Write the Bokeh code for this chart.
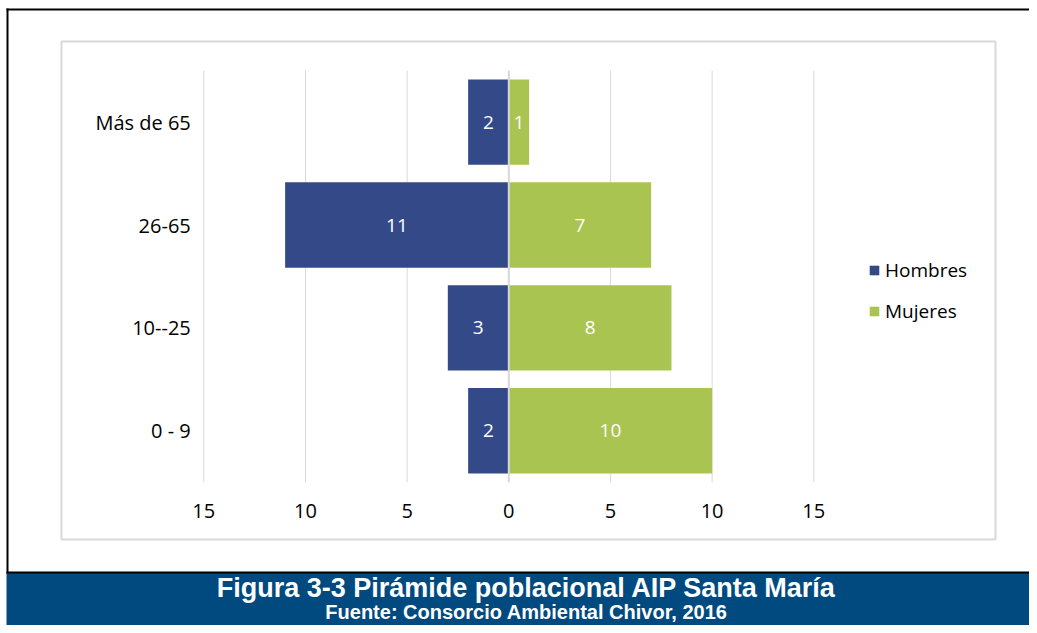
from bokeh.plotting import figure
from bokeh.models import Range1d, LinearAxis, FixedTicker, Legend, LegendItem, Grid
from bokeh.embed import file_html
from bokeh.resources import INLINE
from bokeh.core.properties import value

# ---- data ----
categories = ["0 - 9", "10--25", "26-65", "Más de 65"]
hombres = [2, 3, 11, 2]
mujeres = [10, 8, 7, 1]
x_ticks = [-15, -10, -5, 0, 5, 10, 15]
title = "Figura 3-3 Pirámide poblacional AIP Santa María"
subtitle = "Fuente: Consorcio Ambiental Chivor, 2016"

# ---- layout geometry (pixels from top-left of the picture) ----
W, H = 1029, 625
xl_page, xr_page = 203.3, 813.3          # positions of -15 and +15
ppu = (xr_page - xl_page) / 30.0
x_start = -15 - xl_page / ppu
x_end = 15 + (W - xr_page) / ppu
row = 102.9
y0c = 430.3                               # center of first category
y_end = y0c / row
y_start = -(H - y0c) / row

FONT = "Open Sans"
BLUE = "#344A88"
GREEN = "#A9C451"
GRID = "#D9D9D9"

p = figure(width=W, height=H, x_range=Range1d(x_start, x_end),
           y_range=Range1d(y_start, y_end), output_backend="svg",
           toolbar_location=None, x_axis_location=None, y_axis_location=None,
           min_border=0, outline_line_color=None,
           background_fill_color="white", border_fill_color="white")
p.center = [c for c in p.center if not isinstance(c, Grid)]
p.extra_x_ranges = {"px": Range1d(0, W)}
p.extra_y_ranges = {"py": Range1d(H, 0)}

dec = dict(x_range_name="px", y_range_name="py")

# chart area border
p.quad(left=[61], right=[995], top=[41], bottom=[539],
       fill_color=None, line_color=GRID, line_width=2, **dec)
# outer black frame
p.segment(x0=[7], x1=[7], y0=[8], y1=[573], line_color="black", line_width=2, **dec)
p.segment(x0=[6], x1=[W], y0=[9], y1=[9], line_color="black", line_width=2, **dec)
# banner
p.quad(left=[6], right=[W], top=[572], bottom=[H], fill_color="#004A80",
       line_color=None, **dec)
p.segment(x0=[6], x1=[W], y0=[572], y1=[572], line_color="black", line_width=2, **dec)
p.text(x=[526], y=[587], text=[title], text_align="center",
       text_baseline="middle", text_font=value("Liberation Sans"),
       text_font_style="bold", text_font_size="27px", text_color="white", **dec)
p.text(x=[526], y=[611], text=[subtitle], text_align="center",
       text_baseline="middle", text_font=value("Liberation Sans"),
       text_font_style="bold", text_font_size="20px", text_color="white", **dec)

idx = list(range(len(categories)))
n = len(categories)

# gridlines
p.segment(x0=x_ticks, x1=x_ticks, y0=[-0.5] * len(x_ticks), y1=[n - 0.5] * len(x_ticks),
          line_color=GRID, line_width=1)

bar_h = 0.83
rh = p.hbar(y=idx, left=[-v for v in hombres], right=[0] * n, height=bar_h,
            fill_color=BLUE, line_color=None)
rm = p.hbar(y=idx, left=[0] * n, right=mujeres, height=bar_h,
            fill_color=GREEN, line_color=None)

# zero axis line over bars
p.segment(x0=[0], x1=[0], y0=[-0.5], y1=[n - 0.5], line_color=GRID, line_width=2)

# value labels
p.text(x=[-v / 2 for v in hombres], y=idx, text=[str(v) for v in hombres],
       text_align="center", text_baseline="middle", text_font=value(FONT),
       text_font_size="19px", text_color="white")
p.text(x=[v / 2 for v in mujeres], y=idx, text=[str(v) for v in mujeres],
       text_align="center", text_baseline="middle", text_font=value(FONT),
       text_font_size="19px", text_color="white")

# axes
xaxis = LinearAxis(fixed_location=-0.5, ticker=FixedTicker(ticks=x_ticks),
                   major_label_overrides={t: str(abs(t)) for t in x_ticks},
                   axis_line_color=None, major_tick_line_color=None,
                   minor_tick_line_color=None, major_label_standoff=16,
                   major_label_text_font=FONT, major_label_text_font_size="20px",
                   major_label_text_color="black")
p.add_layout(xaxis, "below")
yaxis = LinearAxis(fixed_location=-15, ticker=FixedTicker(ticks=idx),
                   major_label_overrides={i: c for i, c in zip(idx, categories)},
                   axis_line_color=None, major_tick_line_color=None,
                   minor_tick_line_color=None, major_label_standoff=7,
                   major_label_text_font=FONT, major_label_text_font_size="20px",
                   major_label_text_color="black")
p.add_layout(yaxis, "left")

legend = Legend(items=[LegendItem(label="Hombres", renderers=[rh]),
                       LegendItem(label="Mujeres", renderers=[rm])],
                location=(868, H - 324), glyph_width=12, glyph_height=12,
                label_text_font=FONT, label_text_font_size="19px",
                label_text_color="black", spacing=15, label_height=20,
                padding=0, margin=0, border_line_color=None,
                background_fill_alpha=0, label_standoff=5)
p.add_layout(legend)

open("out.html", "w").write(file_html(p, INLINE))
